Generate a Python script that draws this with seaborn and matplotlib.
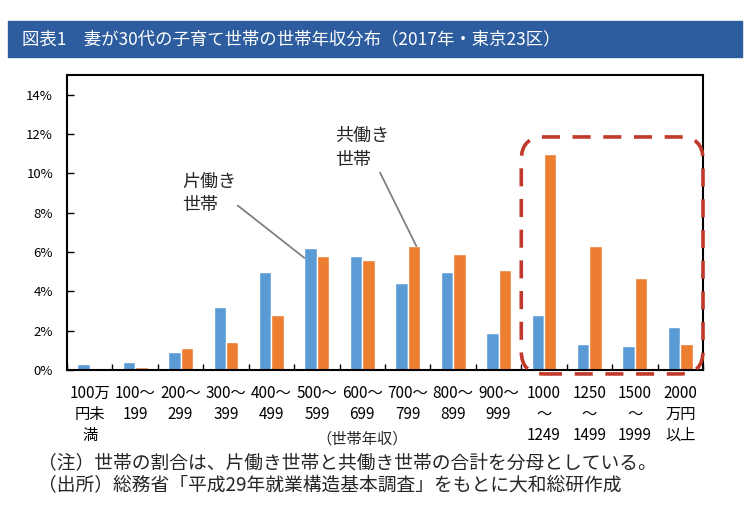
import numpy as np
import pandas as pd
import matplotlib.pyplot as plt
import seaborn as sns
from matplotlib.patches import FancyBboxPatch, Rectangle

# Data (share of households, %)
categories = ["100万\n円未\n満", "100～\n199", "200～\n299", "300～\n399", "400～\n499",
              "500～\n599", "600～\n699", "700～\n799", "800～\n899", "900～\n999",
              "1000\n～\n1249", "1250\n～\n1499", "1500\n～\n1999", "2000\n万円\n以上"]
single_income = [0.3, 0.4, 0.9, 3.2, 5.0, 6.2, 5.8, 4.4, 5.0, 1.9, 2.8, 1.3, 1.2, 2.2]
dual_income = [0.0, 0.15, 1.1, 1.4, 2.8, 5.8, 5.6, 6.3, 5.9, 5.1, 11.0, 6.3, 4.7, 1.3]
series_names = ["片働き世帯", "共働き世帯"]
yticks = [0, 2, 4, 6, 8, 10, 12, 14]

title = "図表1　妻が30代の子育て世帯の世帯年収分布（2017年・東京23区）"
note1 = "（注）世帯の割合は、片働き世帯と共働き世帯の合計を分母としている。"
note2 = "（出所）総務省「平成29年就業構造基本調査」をもとに大和総研作成"

df = pd.DataFrame({
    "category": categories * 2,
    "series": [series_names[0]] * len(categories) + [series_names[1]] * len(categories),
    "value": single_income + dual_income,
})

sns.set_theme(style="white")
plt.rcParams["font.family"] = ["Noto Sans CJK JP", "DejaVu Sans"]

W, H = 750, 518
fig = plt.figure(figsize=(7.5, 5.18), dpi=100)
fig.patch.set_facecolor("white")

# blue title bar
fig.patches.append(Rectangle((8 / W, 1 - 57 / H), 734 / W, 36 / H,
                             transform=fig.transFigure, color="#2D5D9F", zorder=0))
fig.text(22 / W, 1 - 39 / H, title, color="white", fontsize=12.5, va="center")

ax = fig.add_axes([67 / W, 1 - 370 / H, 636 / W, 295 / H])
sns.barplot(data=df, x="category", y="value", hue="series", order=categories,
            palette=["#5B9BD5", "#ED7D31"], width=0.55, gap=0, saturation=1,
            legend=False, ax=ax)

ax.set_xlim(-0.5, len(categories) - 0.5)
ax.set_ylim(0, 15)
ax.set_yticks(yticks)
ax.set_yticklabels([f"{t}%" for t in yticks])
ax.set_xlabel("")
ax.set_ylabel("")
for s in ax.spines.values():
    s.set_visible(True)
    s.set_color("black")
    s.set_linewidth(1.5)

ax.tick_params(axis="y", left=True, direction="in", length=5, width=1,
               pad=10, labelsize=9.5, colors="black")
ax.tick_params(axis="x", which="major", bottom=True, length=0, pad=11,
               labelsize=11, colors="black")
ax.set_xticks(np.arange(len(categories) + 1) - 0.5, minor=True)
ax.tick_params(axis="x", which="minor", bottom=True, direction="in",
               length=4, width=1, color="black")
for lab in ax.get_xticklabels():
    lab.set_linespacing(1.3)

# annotations
ax.text(2.03, 8.97, "片働き\n世帯", fontsize=13, ha="left", va="center", linespacing=1.4)
ax.annotate("", xy=(5 - 0.275, single_income[5] - 0.5), xytext=(3.26, 8.36),
            arrowprops=dict(arrowstyle="-", color="#808080", lw=1.3, shrinkA=0, shrinkB=0))
ax.text(5.40, 11.29, "共働き\n世帯", fontsize=13, ha="left", va="center", linespacing=1.4)
ax.annotate("", xy=(7 + 0.19, dual_income[7]), xytext=(6.39, 10.04),
            arrowprops=dict(arrowstyle="-", color="#808080", lw=1.3, shrinkA=0, shrinkB=0))

# red dashed highlight box
box = FancyBboxPatch((9.5, -0.2), 4.0, 12.05,
                     boxstyle="round,pad=0,rounding_size=0.5",
                     mutation_aspect=45.43 / 19.67, fill=False,
                     edgecolor="#C0392B", lw=2.6, linestyle=(0, (5, 3.5)),
                     clip_on=False, zorder=5)
ax.add_patch(box)

ax.text(6.0, -0.235, "（世帯年収）", transform=ax.get_xaxis_transform(),
        fontsize=11, ha="center", va="center")

fig.text(38 / W, 1 - 463 / H, note1, fontsize=13.5, va="center")
fig.text(38 / W, 1 - 486 / H, note2, fontsize=13.5, va="center")

fig.savefig("out.png", dpi=100)
